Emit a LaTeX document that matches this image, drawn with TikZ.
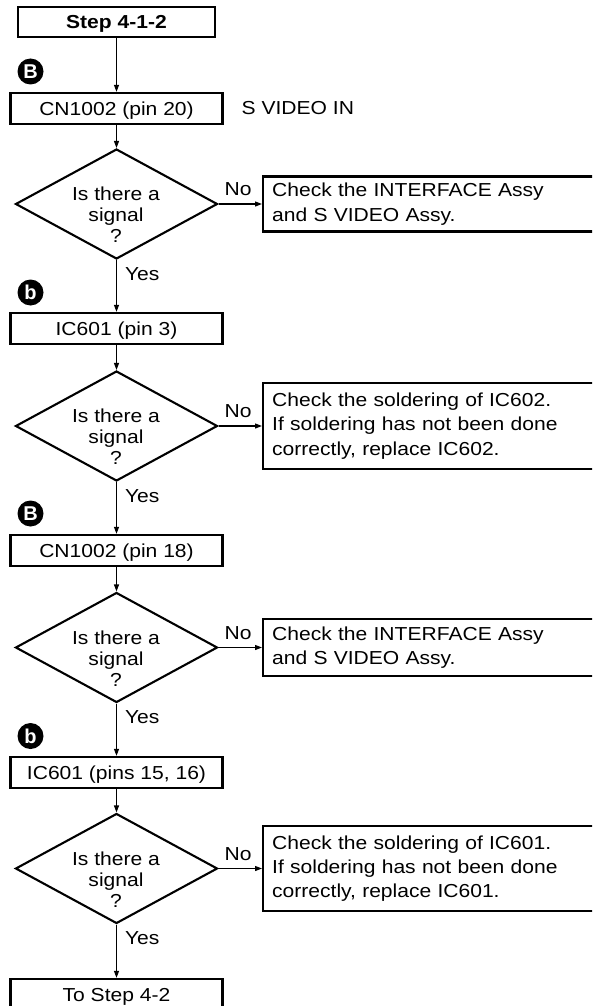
\documentclass[tikz,border=0pt]{standalone}
\usepackage{fontspec}
\setmainfont{Liberation Sans}[FakeStretch=1.12]
\newfontfamily\circfont{Liberation Sans}
\usetikzlibrary{shapes.geometric,arrows.meta}
\begin{document}
\begin{tikzpicture}[x=1pt,y=-1pt,
  font=\fontsize{18.8}{24.3}\selectfont,
  box/.style={draw, line width=2.3pt, minimum width=212pt, minimum height=31pt, inner sep=0pt, text height=13.5pt, text depth=0pt},
  chk/.style={draw, line width=2.3pt, inner xsep=9pt, inner ysep=0pt, text width=322pt, align=left, anchor=west},
  dia/.style={draw, diamond, line width=2.1pt, minimum width=202pt, minimum height=110pt, inner sep=0pt},
  qtext/.style={align=center, inner sep=0pt, font=\fontsize{18.8}{21}\selectfont},
  circ/.style={circle, fill=black, minimum size=26pt, inner sep=0pt, text=white, font=\circfont\bfseries\fontsize{20}{20}\selectfont},
  arr/.style={line width=1.2pt, -{Triangle[length=7pt,width=5pt]}},
  lbl/.style={inner sep=0pt, anchor=base west},
]
\useasboundingbox (0,0) rectangle (592,1006);
\clip (0,0) rectangle (592,1006);

\node[box, minimum width=197pt, minimum height=30pt, font=\fontsize{18.8}{24}\selectfont\bfseries] (s0) at (116.5,22) {Step 4-1-2};

\node[circ] (m1) at (30.5,71.5) {B};
\node[box] (c1) at (116.5,108.5) {CN1002 (pin 20)};
\node[lbl] (sv) at (241.5,115) {S VIDEO IN};
\node[dia] (d1) at (116.5,204) {};
\node[qtext] (q1) at (116,215) {Is there a\\signal\\?};
\node[chk, minimum height=55pt] (r1) at (262,204) {Check the INTERFACE Assy\\and S VIDEO Assy.};

\node[circ] (m2) at (30.5,292.5) {b};
\node[box] (c2) at (116.5,328.5) {IC601 (pin 3)};
\node[dia] (d2) at (116.5,426) {};
\node[qtext] (q2) at (116,437) {Is there a\\signal\\?};
\node[chk, minimum height=86pt] (r2) at (262,426) {Check the soldering of IC602.\\If soldering has not been done\\correctly, replace IC602.};

\node[circ] (m3) at (30.5,513.5) {B};
\node[box] (c3) at (116.5,550.5) {CN1002 (pin 18)};
\node[dia] (d3) at (116.5,647.5) {};
\node[qtext] (q3) at (116,658.5) {Is there a\\signal\\?};
\node[chk, minimum height=57pt] (r3) at (262,647.5) {Check the INTERFACE Assy\\and S VIDEO Assy.};

\node[circ] (m4) at (30.5,736) {b};
\node[box] (c4) at (116.5,772.5) {IC601 (pins 15, 16)};
\node[dia] (d4) at (116.5,868.5) {};
\node[qtext] (q4) at (116,879.5) {Is there a\\signal\\?};
\node[chk, minimum height=85pt] (r4) at (262,868.5) {Check the soldering of IC601.\\If soldering has not been done\\correctly, replace IC601.};

\node[box, minimum height=32pt] (e) at (116.5,995) {To Step 4-2};

\draw[arr] (s0.south) -- (c1.north);
\draw[arr] (c1.south) -- (d1.north);
\draw[arr] (d1.east) -- (r1.west) node[lbl, pos=0, xshift=5.5pt, yshift=8.5pt] (n1) {No};
\draw[arr] (d1.south) -- (c2.north) node[lbl, pos=0, xshift=8pt, yshift=-20pt] (y1) {Yes};
\draw[arr] (c2.south) -- (d2.north);
\draw[arr] (d2.east) -- (r2.west) node[lbl, pos=0, xshift=5.5pt, yshift=8.5pt] (n2) {No};
\draw[arr] (d2.south) -- (c3.north) node[lbl, pos=0, xshift=8pt, yshift=-20pt] (y2) {Yes};
\draw[arr] (c3.south) -- (d3.north);
\draw[arr] (d3.east) -- (r3.west) node[lbl, pos=0, xshift=5.5pt, yshift=8.5pt] (n3) {No};
\draw[arr] (d3.south) -- (c4.north) node[lbl, pos=0, xshift=8pt, yshift=-20pt] (y3) {Yes};
\draw[arr] (c4.south) -- (d4.north);
\draw[arr] (d4.east) -- (r4.west) node[lbl, pos=0, xshift=5.5pt, yshift=8.5pt] (n4) {No};
\draw[arr] (d4.south) -- (e.north) node[lbl, pos=0, xshift=8pt, yshift=-20pt] (y4) {Yes};
\end{tikzpicture}
\end{document}
